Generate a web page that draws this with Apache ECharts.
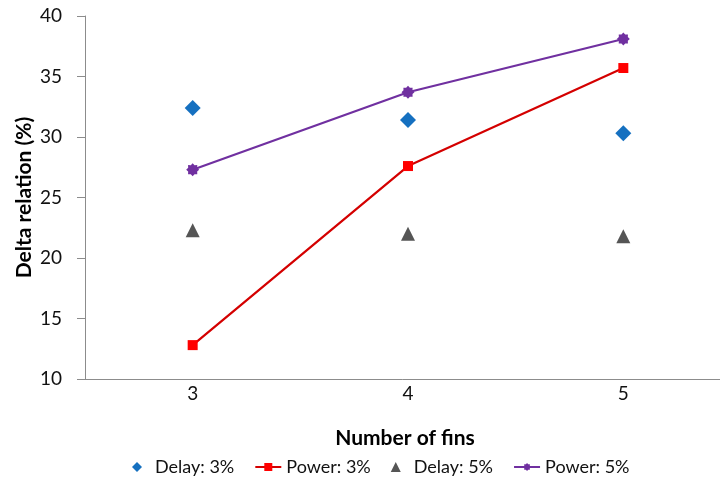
<!DOCTYPE html>
<html><head><meta charset="utf-8">
<script src="https://cdn.jsdelivr.net/npm/echarts@6/dist/echarts.min.js"></script>
<style>html,body{margin:0;padding:0;background:#fff}#c{width:720px;height:483px}</style>
</head><body><div id="c"></div>
<script>
const categories = ['3', '4', '5'];
const delay3 = [32.4, 31.4, 30.3];
const power3 = [12.8, 27.6, 35.7];
const delay5 = [22.3, 22.0, 21.8];
const power5 = [27.3, 33.7, 38.1];
const yTicks = [10, 15, 20, 25, 30, 35, 40];

function starPath(n, ro, ri) {
  let d = '';
  for (let i = 0; i < 2 * n; i++) {
    const r = i % 2 === 0 ? ro : ri;
    const a = Math.PI * i / n - Math.PI / 2;
    d += (i === 0 ? 'M' : 'L') + (r * Math.cos(a)).toFixed(2) + ' ' + (r * Math.sin(a)).toFixed(2);
  }
  return 'path://' + d + 'Z';
}
const star = starPath(8, 10, 7.5);
const diamondIcon = 'path://M5 0L10 5L5 10L0 5Z';
const triIcon = 'path://M5 0L10 10L0 10Z';
const FONT = 'Lato';
const chart = echarts.init(document.getElementById('c'));
chart.setOption({
  animation: false,
  textStyle: { fontFamily: FONT },
  grid: { left: 85, top: 16, right: -11, height: 363, containLabel: false, outerBoundsMode: 'none' },
  xAxis: {
    type: 'category', data: categories,
    name: 'Number of fins', nameLocation: 'middle', nameGap: 49,
    nameTextStyle: { fontFamily: FONT, fontWeight: 'bold', fontSize: 21, color: '#000', padding: [0, 0, 0, -6] },
    axisLine: { lineStyle: { color: '#8c8c8c', width: 1 } },
    axisTick: { lineStyle: { color: '#8c8c8c' }, length: 6 },
    axisLabel: { fontSize: 19, color: '#111', margin: 5, fontFamily: FONT }
  },
  yAxis: {
    type: 'value', min: 10, max: 40, interval: 5,
    name: 'Delta relation (%)', nameLocation: 'middle', nameGap: 50, nameRotate: 90,
    nameMoveOverlap: false,
    nameTextStyle: { fontFamily: FONT, fontWeight: 'bold', fontSize: 21, color: '#000' },
    axisLine: { show: true, lineStyle: { color: '#8c8c8c', width: 1 } },
    axisTick: { show: true, lineStyle: { color: '#8c8c8c' }, length: 8 },
    splitLine: { show: false },
    axisLabel: { fontSize: 19, color: '#111', margin: 23, fontFamily: FONT,
      formatter: v => yTicks.includes(v) ? String(v) : '' }
  },
  legend: {
    bottom: 2, left: 127, itemGap: 20, itemWidth: 26, itemHeight: 10,
    textStyle: { fontSize: 18, color: '#111', fontFamily: FONT },
    data: [
      { name: 'Delay: 3%', icon: diamondIcon },
      { name: 'Power: 3%' },
      { name: 'Delay: 5%', icon: triIcon },
      { name: 'Power: 5%' }
    ]
  },
  series: [
    { name: 'Delay: 3%', type: 'scatter', data: delay3, symbol: 'diamond', symbolSize: 16,
      itemStyle: { color: '#1570C0', opacity: 1 } },
    { name: 'Power: 3%', type: 'line', data: power3, symbol: 'rect', symbolSize: 10,
      lineStyle: { color: '#D40000', width: 2.2 }, itemStyle: { color: '#FF0000' } },
    { name: 'Delay: 5%', type: 'scatter', data: delay5, symbol: 'triangle', symbolSize: 14,
      itemStyle: { color: '#555555', opacity: 1 } },
    { name: 'Power: 5%', type: 'line', data: power5, symbol: star, symbolSize: 13,
      lineStyle: { color: '#7030A0', width: 2.2 }, itemStyle: { color: '#7030A0' } }
  ]
});
</script></body></html>
